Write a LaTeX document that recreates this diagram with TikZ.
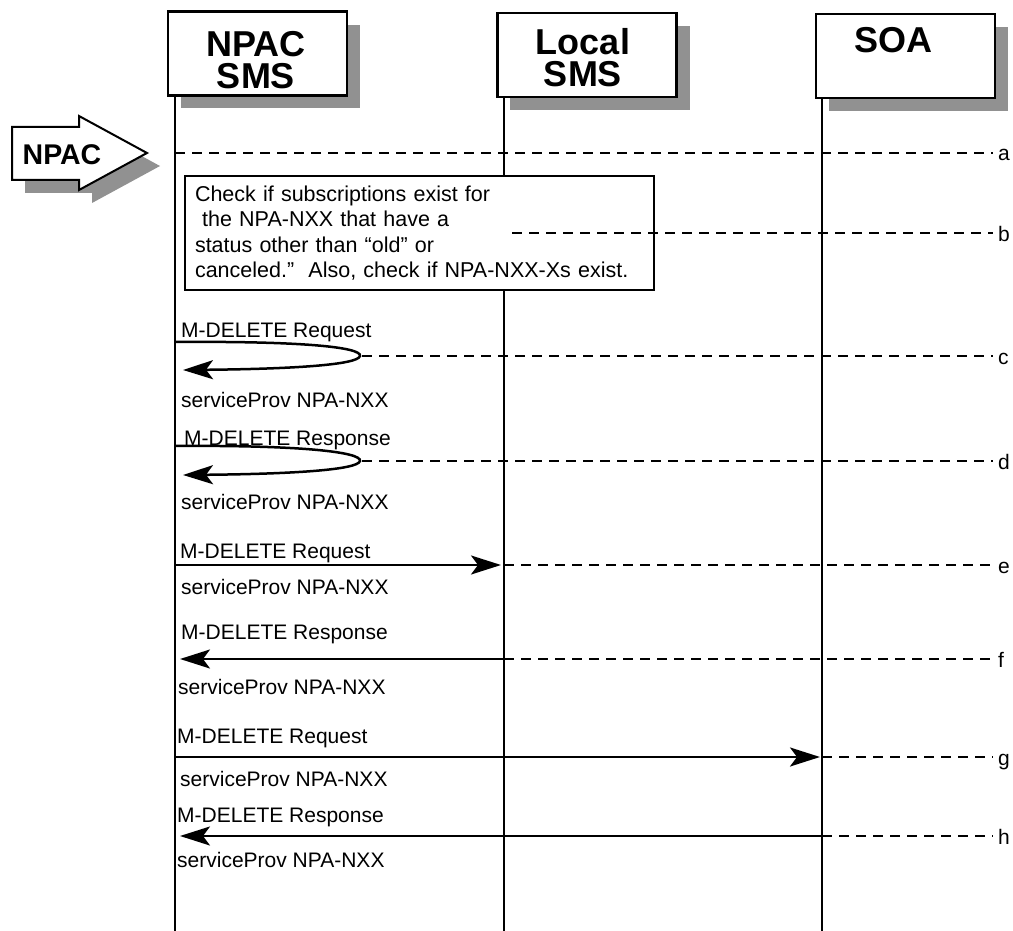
\documentclass[tikz,border=0pt]{standalone}
\usepackage{fontspec}
\setmainfont{Liberation Sans}
\usetikzlibrary{arrows.meta}
\definecolor{shadowgray}{RGB}{145,145,145}
\tikzset{>=stealth}
\tikzset{
  headbox/.style={draw,line width=2.5pt,fill=white,minimum width=179pt,minimum height=84pt,inner sep=0pt},
  headtext/.style={font=\fontsize{36}{32}\selectfont\bfseries,align=center,inner sep=0pt},
  lifeline/.style={line width=2pt},
  trace/.style={line width=2pt,dash pattern=on 10pt off 7pt},
  msg/.style={line width=2.5pt,-{Stealth[length=30pt,width=19pt,inset=7pt]}},
  msgtext/.style={anchor=west,inner sep=0pt,font=\fontsize{21}{25}\selectfont,text height=15pt,text depth=0pt},
  rowlabel/.style={anchor=base west,inner sep=0pt,font=\fontsize{21}{25}\selectfont,xshift=4pt,yshift=-8pt},
  notebox/.style={draw,line width=2pt,fill=white,minimum width=469pt,minimum height=114pt,
    text width=449pt,inner xsep=10pt,align=left,font=\fontsize{21.5}{25.5}\selectfont}
}

\begin{document}
\begin{tikzpicture}[x=1pt,y=-1pt]
    \useasboundingbox (0,0) rectangle (1013,931);
    \coordinate (npacL) at (175,0);
    \coordinate (locL) at (504,0);
    \coordinate (soaL) at (822,0);
    \coordinate (bot) at (0,931);
    % heads
    \fill[shadowgray] (181,25) rectangle (360,108);
    \fill[shadowgray] (510,26) rectangle (690,110);
    \fill[shadowgray] (829,27) rectangle (1008,111);
    \node[headbox] (npac) at (257.5,53.5) {};
    \node[headbox] (loc) at (587,55) {};
    \node[headbox] (soa) at (905.5,56) {};
    \node[headtext] (npact) at (256,60) {NPAC\\SMS};
    \node[headtext] (loct) at (583,58) {Local\\SMS};
    \node[headtext] (soat) at (893,40) {SOA};
    \draw[lifeline] (npacL |- npac.south) -- (npacL |- bot);
    \draw[lifeline] (locL |- loc.south) -- (locL |- bot);
    \draw[lifeline] (soaL |- soa.south) -- (soaL |- bot);
    % trigger
    \fill[shadowgray] (25,140) -- (92,140) -- (92,129) -- (160,166) -- (92,203) -- (92,193) -- (25,193) -- cycle;
    \draw[line width=2pt,fill=white] (12,127) -- (79,127) -- (79,116) -- (147,153) -- (79,190) -- (79,180) -- (12,180) -- cycle;
    \node[font=\fontsize{28.5}{30}\selectfont\bfseries,inner sep=0pt] (npacin) at (62,155) {NPAC};
    % check
    \node[notebox] (check) at (419.5,233) {Check if subscriptions exist for\\
      \ the NPA-NXX that have a\\
      status other than “old” or\\
      canceled.”\ \ Also, check if NPA-NXX-Xs exist.};
    \foreach \r/\y/\xs in {a/153/175,b/233/512,c/356/362,d/461/362,e/565/504,f/659/504,g/757/822,h/836/822}{
      \coordinate (row\r) at (0,\y);
      \draw[trace] (\xs,\y) -- (993,\y) node[rowlabel] (lab\r) {\r};
    }
    % messages
    \coordinate (turnc) at (360,356);
    \coordinate (turnd) at (360,461);
    \draw[msg] (175,342) .. controls (300,341) and (362,347) .. (turnc)
      .. controls (358,365) and (290,369) .. (183,370);
    \draw[msg] (175,446) .. controls (300,445) and (362,452) .. (turnd)
      .. controls (358,470) and (290,474) .. (183,475);
    \draw[msg] (npacL |- rowe) -- ([xshift=-3pt]locL |- rowe);
    \draw[msg] (locL |- rowf) -- ([xshift=5pt]npacL |- rowf);
    \draw[msg] (npacL |- rowg) -- ([xshift=-2pt]soaL |- rowg);
    \draw[msg] (soaL |- rowh) -- ([xshift=5pt]npacL |- rowh);
    \node[msgtext] (reqc) at (181,330) {M-DELETE Request};
    \node[msgtext] (spc) at (181,400) {serviceProv NPA-NXX};
    \node[msgtext] (resd) at (184,438) {M-DELETE Response};
    \node[msgtext] (spd) at (181,502) {serviceProv NPA-NXX};
    \node[msgtext] (reqe) at (180,551) {M-DELETE Request};
    \node[msgtext] (spe) at (181,587) {serviceProv NPA-NXX};
    \node[msgtext] (resf) at (181,632) {M-DELETE Response};
    \node[msgtext] (spf) at (178,687) {serviceProv NPA-NXX};
    \node[msgtext] (reqg) at (177,736) {M-DELETE Request};
    \node[msgtext] (spg) at (180,779) {serviceProv NPA-NXX};
    \node[msgtext] (resh) at (177,815) {M-DELETE Response};
    \node[msgtext] (sph) at (177,860) {serviceProv NPA-NXX};
\end{tikzpicture}
\end{document}
